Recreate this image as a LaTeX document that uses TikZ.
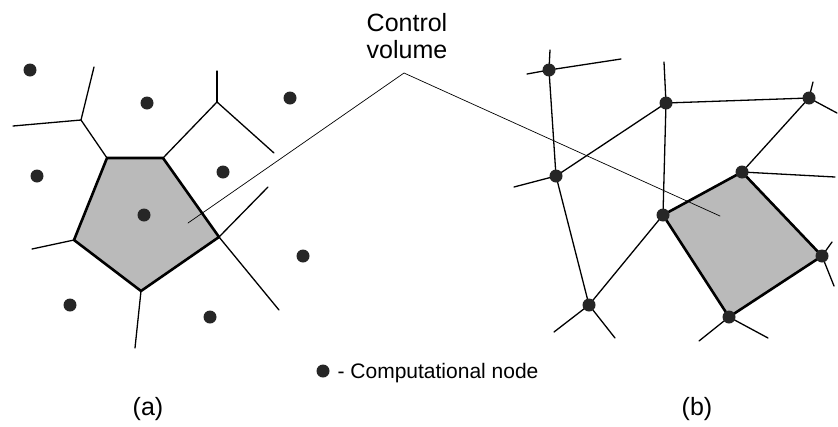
\documentclass[tikz,border=0pt]{standalone}
\usepackage{fontspec}
\setmainfont{Liberation Sans}
\usetikzlibrary{positioning}

\begin{document}
\begin{tikzpicture}[x=1pt, y=-1pt, line width=1.3pt, line cap=round, line join=round,
  dot/.style={circle, fill=black!85, inner sep=0pt, minimum size=13pt},
  cell/.style={draw=black, line width=2.6pt, fill=black!27},
  lead/.style={line width=0.7pt},
  lbl/.style={font=\fontsize{25}{27}\selectfont, align=center, inner sep=0pt}]
\useasboundingbox (0,0) rectangle (838,426);
% computational nodes, same spots in (a) and (b)
\foreach \n/\x/\y in {1/30/70, 2/147/103, 3/290/98, 4/37/176, 5/223/172, 6/144/215, 7/303/256, 8/70/305, 9/210/317} {
  \coordinate (l\n) at (\x,\y);
  \coordinate (r\n) at (\x+519,\y);
}
% (a) cell-centred: cell vertices and free ends
\coordinate (p1) at (107,158); \coordinate (p2) at (163,158); \coordinate (p3) at (219,237);
\coordinate (p4) at (141,291); \coordinate (p5) at (74,240);
\coordinate (q1) at (81,120); \coordinate (q2) at (217,102);
\coordinate (e1) at (13,126); \coordinate (e2) at (94,67); \coordinate (e3) at (217,71);
\coordinate (e4) at (274,153); \coordinate (e5) at (268,187); \coordinate (e6) at (279,310);
\coordinate (e7) at (135,348); \coordinate (e8) at (32,249);
\draw[cell] (p1) -- (p2) -- (p3) -- (p4) -- (p5) -- cycle;
\foreach \a/\b in {p1/q1,q1/e1,q1/e2,p2/q2,q2/e3,q2/e4,p3/e5,p3/e6,p4/e7,p5/e8} \draw (\a) -- (\b);
% (b) vertex-centred: free ends
\coordinate (f1) at (550,50); \coordinate (f2) at (527,74); \coordinate (f3) at (621,59);
\coordinate (f4) at (664,62); \coordinate (f5) at (813,82); \coordinate (f6) at (837,113);
\coordinate (f7) at (514,187); \coordinate (f8) at (835,177); \coordinate (f9) at (832,242);
\coordinate (f10) at (834,286); \coordinate (f11) at (554,332); \coordinate (f12) at (615,338);
\coordinate (f13) at (699,341); \coordinate (f14) at (768,338);
\draw[cell] (r6) -- (r5) -- (r7) -- (r9) -- cycle;
\foreach \a/\b in {r1/r4,r2/r3,r2/r4,r2/r6,r3/r5,r4/r8,r6/r8,r1/f1,r1/f2,r1/f3,r2/f4,r3/f5,r3/f6,r4/f7,r5/f8,r7/f9,r7/f10,r8/f11,r8/f12,r9/f13,r9/f14} \draw (\a) -- (\b);
\foreach \n in {1,...,9} {
  \node[dot] (dl\n) at (l\n) {};
  \node[dot] (dr\n) at (r\n) {};
}
% label and leader lines
\node[lbl] (cv) at (407,36) {Control\\volume};
\coordinate (apex) at (404,73);
\coordinate (cvl) at (188,223); \coordinate (cvr) at (720,216);
\draw[lead] (cvl) -- (apex) -- (cvr);
% legend
\node[dot] (key) at (323,371) {};
\node[lbl, font=\fontsize{21}{23}\selectfont, anchor=base west] (keytxt) at (337,378) {- Computational node};
\node[lbl] (capa) at (148,409) {(a)};
\node[lbl] (capb) at (697,409) {(b)};
\end{tikzpicture}
\end{document}
